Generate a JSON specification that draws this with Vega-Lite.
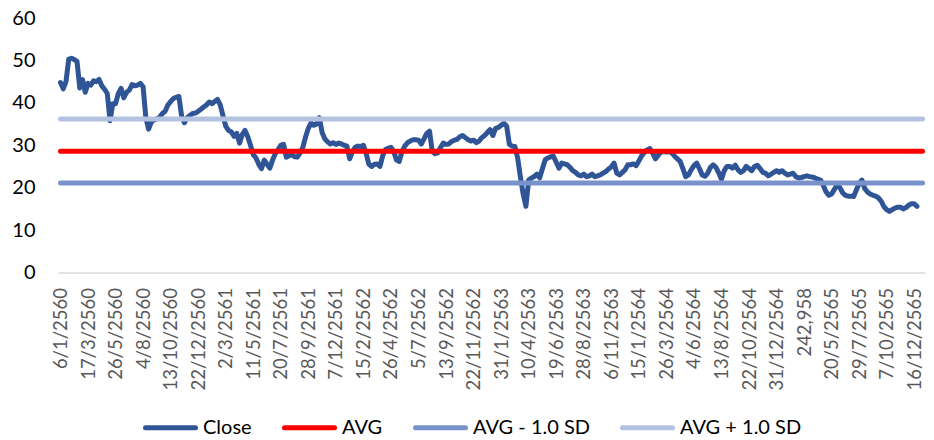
{
"$schema": "https://vega.github.io/schema/vega-lite/v6.json",
"width": 867,
"height": 254.5,
"padding": {"left": 58, "top": 18, "right": 9, "bottom": 167.5},
"autosize": {"type": "none"},
"background": "white",
"config": {"view": {"stroke": null}, "font": "Lato"},
"data": {"values": [
{"date":"6/1/2560","series":"Close","value":44.8},
{"date":"13/1/2560","series":"Close","value":43.3},
{"date":"20/1/2560","series":"Close","value":45},
{"date":"27/1/2560","series":"Close","value":50.3},
{"date":"3/2/2560","series":"Close","value":50.5},
{"date":"10/2/2560","series":"Close","value":50.2},
{"date":"17/2/2560","series":"Close","value":49.8},
{"date":"24/2/2560","series":"Close","value":43.5},
{"date":"3/3/2560","series":"Close","value":45.5},
{"date":"10/3/2560","series":"Close","value":42.5},
{"date":"17/3/2560","series":"Close","value":44.6},
{"date":"24/3/2560","series":"Close","value":44.2},
{"date":"31/3/2560","series":"Close","value":45.2},
{"date":"7/4/2560","series":"Close","value":45},
{"date":"14/4/2560","series":"Close","value":45.5},
{"date":"21/4/2560","series":"Close","value":44},
{"date":"28/4/2560","series":"Close","value":43.2},
{"date":"5/5/2560","series":"Close","value":42.2},
{"date":"12/5/2560","series":"Close","value":35.8},
{"date":"19/5/2560","series":"Close","value":39.8},
{"date":"26/5/2560","series":"Close","value":39.8},
{"date":"2/6/2560","series":"Close","value":42.2},
{"date":"9/6/2560","series":"Close","value":43.4},
{"date":"16/6/2560","series":"Close","value":41.2},
{"date":"23/6/2560","series":"Close","value":42.5},
{"date":"30/6/2560","series":"Close","value":43},
{"date":"7/7/2560","series":"Close","value":44.3},
{"date":"14/7/2560","series":"Close","value":44},
{"date":"21/7/2560","series":"Close","value":44.2},
{"date":"28/7/2560","series":"Close","value":44.6},
{"date":"4/8/2560","series":"Close","value":43.8},
{"date":"11/8/2560","series":"Close","value":36.5},
{"date":"18/8/2560","series":"Close","value":33.8},
{"date":"25/8/2560","series":"Close","value":35.5},
{"date":"1/9/2560","series":"Close","value":36},
{"date":"8/9/2560","series":"Close","value":36.2},
{"date":"15/9/2560","series":"Close","value":36.6},
{"date":"22/9/2560","series":"Close","value":37.5},
{"date":"29/9/2560","series":"Close","value":38},
{"date":"6/10/2560","series":"Close","value":39.5},
{"date":"13/10/2560","series":"Close","value":40.3},
{"date":"20/10/2560","series":"Close","value":41},
{"date":"27/10/2560","series":"Close","value":41.3},
{"date":"3/11/2560","series":"Close","value":41.5},
{"date":"10/11/2560","series":"Close","value":36.8},
{"date":"17/11/2560","series":"Close","value":35.3},
{"date":"24/11/2560","series":"Close","value":36.5},
{"date":"1/12/2560","series":"Close","value":37},
{"date":"8/12/2560","series":"Close","value":37.5},
{"date":"15/12/2560","series":"Close","value":37.6},
{"date":"22/12/2560","series":"Close","value":38},
{"date":"29/12/2560","series":"Close","value":38.5},
{"date":"5/1/2561","series":"Close","value":39},
{"date":"12/1/2561","series":"Close","value":39.5},
{"date":"19/1/2561","series":"Close","value":40.2},
{"date":"26/1/2561","series":"Close","value":39.8},
{"date":"2/2/2561","series":"Close","value":40.3},
{"date":"9/2/2561","series":"Close","value":40.8},
{"date":"16/2/2561","series":"Close","value":39.5},
{"date":"23/2/2561","series":"Close","value":37},
{"date":"2/3/2561","series":"Close","value":34.5},
{"date":"9/3/2561","series":"Close","value":33.5},
{"date":"16/3/2561","series":"Close","value":33.2},
{"date":"23/3/2561","series":"Close","value":32.1},
{"date":"30/3/2561","series":"Close","value":32.8},
{"date":"6/4/2561","series":"Close","value":30.5},
{"date":"13/4/2561","series":"Close","value":32.5},
{"date":"20/4/2561","series":"Close","value":33.5},
{"date":"27/4/2561","series":"Close","value":32},
{"date":"4/5/2561","series":"Close","value":30},
{"date":"11/5/2561","series":"Close","value":27.8},
{"date":"18/5/2561","series":"Close","value":27},
{"date":"25/5/2561","series":"Close","value":25.5},
{"date":"1/6/2561","series":"Close","value":24.5},
{"date":"8/6/2561","series":"Close","value":26.5},
{"date":"15/6/2561","series":"Close","value":25.5},
{"date":"22/6/2561","series":"Close","value":24.6},
{"date":"29/6/2561","series":"Close","value":26.5},
{"date":"6/7/2561","series":"Close","value":28},
{"date":"13/7/2561","series":"Close","value":29},
{"date":"20/7/2561","series":"Close","value":30},
{"date":"27/7/2561","series":"Close","value":30.2},
{"date":"3/8/2561","series":"Close","value":27.2},
{"date":"10/8/2561","series":"Close","value":27.5},
{"date":"17/8/2561","series":"Close","value":27.8},
{"date":"24/8/2561","series":"Close","value":27.3},
{"date":"31/8/2561","series":"Close","value":27.2},
{"date":"7/9/2561","series":"Close","value":28.2},
{"date":"14/9/2561","series":"Close","value":29.5},
{"date":"21/9/2561","series":"Close","value":32},
{"date":"28/9/2561","series":"Close","value":34},
{"date":"5/10/2561","series":"Close","value":35.3},
{"date":"12/10/2561","series":"Close","value":34.7},
{"date":"19/10/2561","series":"Close","value":35},
{"date":"26/10/2561","series":"Close","value":36.5},
{"date":"2/11/2561","series":"Close","value":33},
{"date":"9/11/2561","series":"Close","value":31.5},
{"date":"16/11/2561","series":"Close","value":30.8},
{"date":"23/11/2561","series":"Close","value":30.3},
{"date":"30/11/2561","series":"Close","value":30.6},
{"date":"7/12/2561","series":"Close","value":30.2},
{"date":"14/12/2561","series":"Close","value":30.5},
{"date":"21/12/2561","series":"Close","value":30.3},
{"date":"28/12/2561","series":"Close","value":30},
{"date":"4/1/2562","series":"Close","value":29.8},
{"date":"11/1/2562","series":"Close","value":26.8},
{"date":"18/1/2562","series":"Close","value":28.5},
{"date":"25/1/2562","series":"Close","value":29.5},
{"date":"1/2/2562","series":"Close","value":29.8},
{"date":"8/2/2562","series":"Close","value":29.7},
{"date":"15/2/2562","series":"Close","value":30},
{"date":"22/2/2562","series":"Close","value":28},
{"date":"1/3/2562","series":"Close","value":25.5},
{"date":"8/3/2562","series":"Close","value":25},
{"date":"15/3/2562","series":"Close","value":25.5},
{"date":"22/3/2562","series":"Close","value":25.6},
{"date":"29/3/2562","series":"Close","value":25},
{"date":"5/4/2562","series":"Close","value":27.5},
{"date":"12/4/2562","series":"Close","value":29},
{"date":"19/4/2562","series":"Close","value":29.3},
{"date":"26/4/2562","series":"Close","value":29.5},
{"date":"3/5/2562","series":"Close","value":28.5},
{"date":"10/5/2562","series":"Close","value":26.5},
{"date":"17/5/2562","series":"Close","value":26.2},
{"date":"24/5/2562","series":"Close","value":28.5},
{"date":"31/5/2562","series":"Close","value":29.8},
{"date":"7/6/2562","series":"Close","value":30.6},
{"date":"14/6/2562","series":"Close","value":31},
{"date":"21/6/2562","series":"Close","value":31.3},
{"date":"28/6/2562","series":"Close","value":31.3},
{"date":"5/7/2562","series":"Close","value":31.2},
{"date":"12/7/2562","series":"Close","value":30.3},
{"date":"19/7/2562","series":"Close","value":31.5},
{"date":"26/7/2562","series":"Close","value":32.8},
{"date":"2/8/2562","series":"Close","value":33.3},
{"date":"9/8/2562","series":"Close","value":28.5},
{"date":"16/8/2562","series":"Close","value":28},
{"date":"23/8/2562","series":"Close","value":28.2},
{"date":"30/8/2562","series":"Close","value":29.5},
{"date":"6/9/2562","series":"Close","value":30.5},
{"date":"13/9/2562","series":"Close","value":30.2},
{"date":"20/9/2562","series":"Close","value":30.3},
{"date":"27/9/2562","series":"Close","value":30.9},
{"date":"4/10/2562","series":"Close","value":31.2},
{"date":"11/10/2562","series":"Close","value":31.4},
{"date":"18/10/2562","series":"Close","value":32},
{"date":"25/10/2562","series":"Close","value":32.3},
{"date":"1/11/2562","series":"Close","value":31.8},
{"date":"8/11/2562","series":"Close","value":31.3},
{"date":"15/11/2562","series":"Close","value":31},
{"date":"22/11/2562","series":"Close","value":31.2},
{"date":"29/11/2562","series":"Close","value":30.6},
{"date":"6/12/2562","series":"Close","value":31},
{"date":"13/12/2562","series":"Close","value":31.8},
{"date":"20/12/2562","series":"Close","value":32.3},
{"date":"27/12/2562","series":"Close","value":33},
{"date":"3/1/2563","series":"Close","value":33.7},
{"date":"10/1/2563","series":"Close","value":32.3},
{"date":"17/1/2563","series":"Close","value":34},
{"date":"24/1/2563","series":"Close","value":34.2},
{"date":"31/1/2563","series":"Close","value":34.7},
{"date":"7/2/2563","series":"Close","value":35.2},
{"date":"14/2/2563","series":"Close","value":34.5},
{"date":"21/2/2563","series":"Close","value":30.2},
{"date":"28/2/2563","series":"Close","value":29.8},
{"date":"6/3/2563","series":"Close","value":29.7},
{"date":"13/3/2563","series":"Close","value":27},
{"date":"20/3/2563","series":"Close","value":22.5},
{"date":"27/3/2563","series":"Close","value":18.5},
{"date":"3/4/2563","series":"Close","value":15.6},
{"date":"10/4/2563","series":"Close","value":21.8},
{"date":"17/4/2563","series":"Close","value":22.3},
{"date":"24/4/2563","series":"Close","value":22.6},
{"date":"1/5/2563","series":"Close","value":23.2},
{"date":"8/5/2563","series":"Close","value":22.3},
{"date":"15/5/2563","series":"Close","value":24.5},
{"date":"22/5/2563","series":"Close","value":26.6},
{"date":"29/5/2563","series":"Close","value":27},
{"date":"5/6/2563","series":"Close","value":27.3},
{"date":"12/6/2563","series":"Close","value":27.4},
{"date":"19/6/2563","series":"Close","value":26},
{"date":"26/6/2563","series":"Close","value":24.6},
{"date":"3/7/2563","series":"Close","value":25.8},
{"date":"10/7/2563","series":"Close","value":25.6},
{"date":"17/7/2563","series":"Close","value":25.4},
{"date":"24/7/2563","series":"Close","value":24.8},
{"date":"31/7/2563","series":"Close","value":24},
{"date":"7/8/2563","series":"Close","value":23.6},
{"date":"14/8/2563","series":"Close","value":23},
{"date":"21/8/2563","series":"Close","value":22.8},
{"date":"28/8/2563","series":"Close","value":23.2},
{"date":"4/9/2563","series":"Close","value":22.6},
{"date":"11/9/2563","series":"Close","value":22.8},
{"date":"18/9/2563","series":"Close","value":23.2},
{"date":"25/9/2563","series":"Close","value":22.6},
{"date":"2/10/2563","series":"Close","value":22.8},
{"date":"9/10/2563","series":"Close","value":23},
{"date":"16/10/2563","series":"Close","value":23.4},
{"date":"23/10/2563","series":"Close","value":23.8},
{"date":"30/10/2563","series":"Close","value":24.4},
{"date":"6/11/2563","series":"Close","value":24.9},
{"date":"13/11/2563","series":"Close","value":25.8},
{"date":"20/11/2563","series":"Close","value":23.4},
{"date":"27/11/2563","series":"Close","value":23},
{"date":"4/12/2563","series":"Close","value":23.6},
{"date":"11/12/2563","series":"Close","value":24.2},
{"date":"18/12/2563","series":"Close","value":25.4},
{"date":"25/12/2563","series":"Close","value":25.4},
{"date":"1/1/2564","series":"Close","value":25.6},
{"date":"8/1/2564","series":"Close","value":25.2},
{"date":"15/1/2564","series":"Close","value":26.3},
{"date":"22/1/2564","series":"Close","value":27.5},
{"date":"29/1/2564","series":"Close","value":28.3},
{"date":"5/2/2564","series":"Close","value":28.9},
{"date":"12/2/2564","series":"Close","value":29.2},
{"date":"19/2/2564","series":"Close","value":28.2},
{"date":"26/2/2564","series":"Close","value":26.8},
{"date":"5/3/2564","series":"Close","value":27.6},
{"date":"12/3/2564","series":"Close","value":28.4},
{"date":"19/3/2564","series":"Close","value":28.5},
{"date":"26/3/2564","series":"Close","value":28.4},
{"date":"2/4/2564","series":"Close","value":28.5},
{"date":"9/4/2564","series":"Close","value":28.2},
{"date":"16/4/2564","series":"Close","value":27.4},
{"date":"23/4/2564","series":"Close","value":26.8},
{"date":"30/4/2564","series":"Close","value":26.2},
{"date":"7/5/2564","series":"Close","value":24.5},
{"date":"14/5/2564","series":"Close","value":22.6},
{"date":"21/5/2564","series":"Close","value":23},
{"date":"28/5/2564","series":"Close","value":24.2},
{"date":"4/6/2564","series":"Close","value":25.2},
{"date":"11/6/2564","series":"Close","value":25.8},
{"date":"18/6/2564","series":"Close","value":24.5},
{"date":"25/6/2564","series":"Close","value":23},
{"date":"2/7/2564","series":"Close","value":22.7},
{"date":"9/7/2564","series":"Close","value":23.4},
{"date":"16/7/2564","series":"Close","value":24.8},
{"date":"23/7/2564","series":"Close","value":25.4},
{"date":"30/7/2564","series":"Close","value":24.8},
{"date":"6/8/2564","series":"Close","value":23.5},
{"date":"13/8/2564","series":"Close","value":22},
{"date":"20/8/2564","series":"Close","value":24},
{"date":"27/8/2564","series":"Close","value":25},
{"date":"3/9/2564","series":"Close","value":25},
{"date":"10/9/2564","series":"Close","value":24.6},
{"date":"17/9/2564","series":"Close","value":25.3},
{"date":"24/9/2564","series":"Close","value":24.2},
{"date":"1/10/2564","series":"Close","value":23.6},
{"date":"8/10/2564","series":"Close","value":24},
{"date":"15/10/2564","series":"Close","value":25},
{"date":"22/10/2564","series":"Close","value":24.5},
{"date":"29/10/2564","series":"Close","value":24},
{"date":"5/11/2564","series":"Close","value":25},
{"date":"12/11/2564","series":"Close","value":25.3},
{"date":"19/11/2564","series":"Close","value":24.5},
{"date":"26/11/2564","series":"Close","value":23.6},
{"date":"3/12/2564","series":"Close","value":23.4},
{"date":"10/12/2564","series":"Close","value":22.8},
{"date":"17/12/2564","series":"Close","value":23.2},
{"date":"24/12/2564","series":"Close","value":23.6},
{"date":"31/12/2564","series":"Close","value":24},
{"date":"7/1/2565","series":"Close","value":23.6},
{"date":"14/1/2565","series":"Close","value":24},
{"date":"21/1/2565","series":"Close","value":23.4},
{"date":"28/1/2565","series":"Close","value":23},
{"date":"4/2/2565","series":"Close","value":23.2},
{"date":"11/2/2565","series":"Close","value":23.4},
{"date":"18/2/2565","series":"Close","value":22.6},
{"date":"25/2/2565","series":"Close","value":22.3},
{"date":"4/3/2565","series":"Close","value":22.4},
{"date":"242,958","series":"Close","value":22.6},
{"date":"18/3/2565","series":"Close","value":22.8},
{"date":"25/3/2565","series":"Close","value":22.6},
{"date":"1/4/2565","series":"Close","value":22.5},
{"date":"8/4/2565","series":"Close","value":22.3},
{"date":"15/4/2565","series":"Close","value":22},
{"date":"22/4/2565","series":"Close","value":21.8},
{"date":"29/4/2565","series":"Close","value":20.5},
{"date":"6/5/2565","series":"Close","value":19},
{"date":"13/5/2565","series":"Close","value":18.2},
{"date":"20/5/2565","series":"Close","value":18.5},
{"date":"27/5/2565","series":"Close","value":19.6},
{"date":"3/6/2565","series":"Close","value":20.6},
{"date":"10/6/2565","series":"Close","value":20},
{"date":"17/6/2565","series":"Close","value":18.8},
{"date":"24/6/2565","series":"Close","value":18.2},
{"date":"1/7/2565","series":"Close","value":18},
{"date":"8/7/2565","series":"Close","value":18},
{"date":"15/7/2565","series":"Close","value":17.9},
{"date":"22/7/2565","series":"Close","value":19.5},
{"date":"29/7/2565","series":"Close","value":21},
{"date":"5/8/2565","series":"Close","value":21.8},
{"date":"12/8/2565","series":"Close","value":19.8},
{"date":"19/8/2565","series":"Close","value":19},
{"date":"26/8/2565","series":"Close","value":18.5},
{"date":"2/9/2565","series":"Close","value":18.2},
{"date":"9/9/2565","series":"Close","value":18},
{"date":"16/9/2565","series":"Close","value":17.6},
{"date":"23/9/2565","series":"Close","value":16.8},
{"date":"30/9/2565","series":"Close","value":15.5},
{"date":"7/10/2565","series":"Close","value":14.8},
{"date":"14/10/2565","series":"Close","value":14.4},
{"date":"21/10/2565","series":"Close","value":14.8},
{"date":"28/10/2565","series":"Close","value":15.2},
{"date":"4/11/2565","series":"Close","value":15.4},
{"date":"11/11/2565","series":"Close","value":15.4},
{"date":"18/11/2565","series":"Close","value":15},
{"date":"25/11/2565","series":"Close","value":15.3},
{"date":"2/12/2565","series":"Close","value":15.9},
{"date":"9/12/2565","series":"Close","value":16.2},
{"date":"16/12/2565","series":"Close","value":16.2},
{"date":"23/12/2565","series":"Close","value":15.6},
{"date":"6/1/2560","series":"AVG","value":28.6},
{"date":"30/12/2565","series":"AVG","value":28.6},
{"date":"6/1/2566","series":"AVG","value":28.6},
{"date":"6/1/2560","series":"AVG - 1.0 SD","value":21.1},
{"date":"30/12/2565","series":"AVG - 1.0 SD","value":21.1},
{"date":"6/1/2566","series":"AVG - 1.0 SD","value":21.1},
{"date":"6/1/2560","series":"AVG + 1.0 SD","value":36.2},
{"date":"30/12/2565","series":"AVG + 1.0 SD","value":36.2},
{"date":"6/1/2566","series":"AVG + 1.0 SD","value":36.2}
]},
"mark": {"type": "line", "strokeWidth": 5, "strokeCap": "round", "strokeJoin": "round"},
"encoding": {
  "x": {
    "field": "date", "type": "ordinal", "sort": null,
    "scale": {"type": "point", "padding": 0.9},
    "axis": {
      "title": null,
      "values": ["6/1/2560","17/3/2560","26/5/2560","4/8/2560","13/10/2560","22/12/2560","2/3/2561","11/5/2561","20/7/2561","28/9/2561","7/12/2561","15/2/2562","26/4/2562","5/7/2562","13/9/2562","22/11/2562","31/1/2563","10/4/2563","19/6/2563","28/8/2563","6/11/2563","15/1/2564","26/3/2564","4/6/2564","13/8/2564","22/10/2564","31/12/2564","242,958","20/5/2565","29/7/2565","7/10/2565","16/12/2565"],
      "labelAngle": -90,
      "labelFont": "Lato",
      "labelFontSize": 18.5,
      "labelColor": "#595959",
      "labelOverlap": false,
      "labelPadding": 15,
      "ticks": false,
      "grid": false,
      "domainColor": "#d9d9d9",
      "domainWidth": 1.5
    }
  },
  "y": {
    "field": "value", "type": "quantitative",
    "scale": {"domain": [0, 60], "nice": false, "zero": true},
    "axis": {
      "title": null,
      "values": [0, 10, 20, 30, 40, 50, 60],
      "labelFont": "Lato",
      "labelFontSize": 20,
      "labelColor": "#000000",
      "labelPadding": 23,
      "domain": false,
      "ticks": false,
      "grid": false
    }
  },
  "color": {
    "field": "series", "type": "nominal",
    "scale": {
      "domain": ["Close", "AVG", "AVG - 1.0 SD", "AVG + 1.0 SD"],
      "range": ["#2f5597", "#ff0000", "#7a92cc", "#b4c2e2"]
    },
    "legend": {
      "title": null,
      "orient": "none",
      "legendX": 85,
      "legendY": 382,
      "direction": "horizontal",
      "symbolType": "stroke",
      "symbolSize": 2500,
      "symbolStrokeWidth": 5,
      "labelFont": "Lato",
      "labelFontSize": 20,
      "labelColor": "#000000",
      "labelOffset": 5,
      "columnPadding": 22,
      "padding": 0,
      "encode": {"symbols": {"update": {"strokeCap": {"value": "round"}}}}
    }
  }
}
}
